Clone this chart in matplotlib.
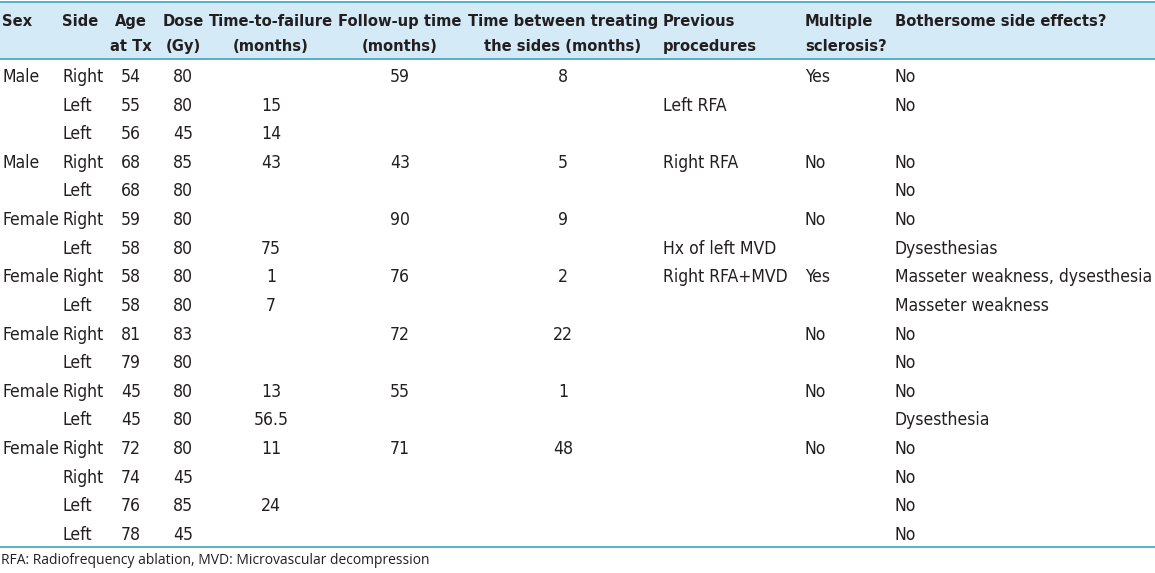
import matplotlib.pyplot as plt
from matplotlib.patches import Rectangle

W, H = 1155, 573

headers = [["Sex", ""], ["Side", ""], ["Age", "at Tx"], ["Dose", "(Gy)"],
           ["Time-to-failure", "(months)"], ["Follow-up time", "(months)"],
           ["Time between treating", "the sides (months)"],
           ["Previous", "procedures"], ["Multiple", "sclerosis?"],
           ["Bothersome side effects?", ""]]

sex = ["Male", "", "", "Male", "", "Female", "", "Female", "", "Female", "",
       "Female", "", "Female", "", "", ""]
side = ["Right", "Left", "Left", "Right", "Left", "Right", "Left", "Right", "Left",
        "Right", "Left", "Right", "Left", "Right", "Right", "Left", "Left"]
age = ["54", "55", "56", "68", "68", "59", "58", "58", "58", "81", "79", "45", "45",
       "72", "74", "76", "78"]
dose = ["80", "80", "45", "85", "80", "80", "80", "80", "80", "83", "80", "80", "80",
        "80", "45", "85", "45"]
ttf = ["", "15", "14", "43", "", "", "75", "1", "7", "", "", "13", "56.5", "11",
       "", "24", ""]
followup = ["59", "", "", "43", "", "90", "", "76", "", "72", "", "55", "", "71",
            "", "", ""]
between = ["8", "", "", "5", "", "9", "", "2", "", "22", "", "1", "", "48", "", "", ""]
previous = ["", "Left RFA", "", "Right RFA", "", "", "Hx of left MVD",
            "Right RFA+MVD", "", "", "", "", "", "", "", "", ""]
ms = ["Yes", "", "", "No", "", "No", "", "Yes", "", "No", "", "No", "", "No", "",
      "", ""]
effects = ["No", "No", "", "No", "No", "No", "Dysesthesias",
           "Masseter weakness, dysesthesia", "Masseter weakness", "No", "No", "No",
           "Dysesthesia", "No", "No", "No", "No"]
footnote = "RFA: Radiofrequency ablation, MVD: Microvascular decompression"

columns = [sex, side, age, dose, ttf, followup, between, previous, ms, effects]
# x position (pixels) and alignment per column
col_x = [2, 62, 131, 183, 271, 400, 563, 663, 805, 895]
col_ha = ["left", "left", "center", "center", "center", "center", "center",
          "left", "left", "left"]

ink = "#231f20"
line_c = "#3ba3c9"
txt = dict(family="DejaVu Sans", fontstretch="condensed", color=ink, va="baseline")

fig = plt.figure(figsize=(W / 100, H / 100), dpi=100)
ax = fig.add_axes([0, 0, 1, 1])
ax.set_xlim(0, W)
ax.set_ylim(H, 0)
ax.axis("off")

ax.add_patch(Rectangle((0, 2), W, 57, facecolor="#d5eaf7", edgecolor="none"))
ax.plot([0, W], [2, 2], color=line_c, lw=1.2)
ax.plot([0, W], [59, 59], color=line_c, lw=1.2)
ax.plot([0, W], [547, 547], color=line_c, lw=1.2)

for x, ha, hd in zip(col_x, col_ha, headers):
    for k, t in enumerate(hd):
        if t:
            ax.text(x, 26 + 25 * k, t, ha=ha, fontsize=11.8, fontweight="bold", **txt)

for x, ha, col in zip(col_x, col_ha, columns):
    for i, t in enumerate(col):
        if t:
            ax.text(x, 82 + 28.62 * i, t, ha=ha, fontsize=12.6, **txt)

ax.text(1, 561, footnote, ha="left", va="center", fontsize=10,
        family=["Open Sans", "DejaVu Sans"], color=ink)

fig.savefig("out.png", dpi=100)
